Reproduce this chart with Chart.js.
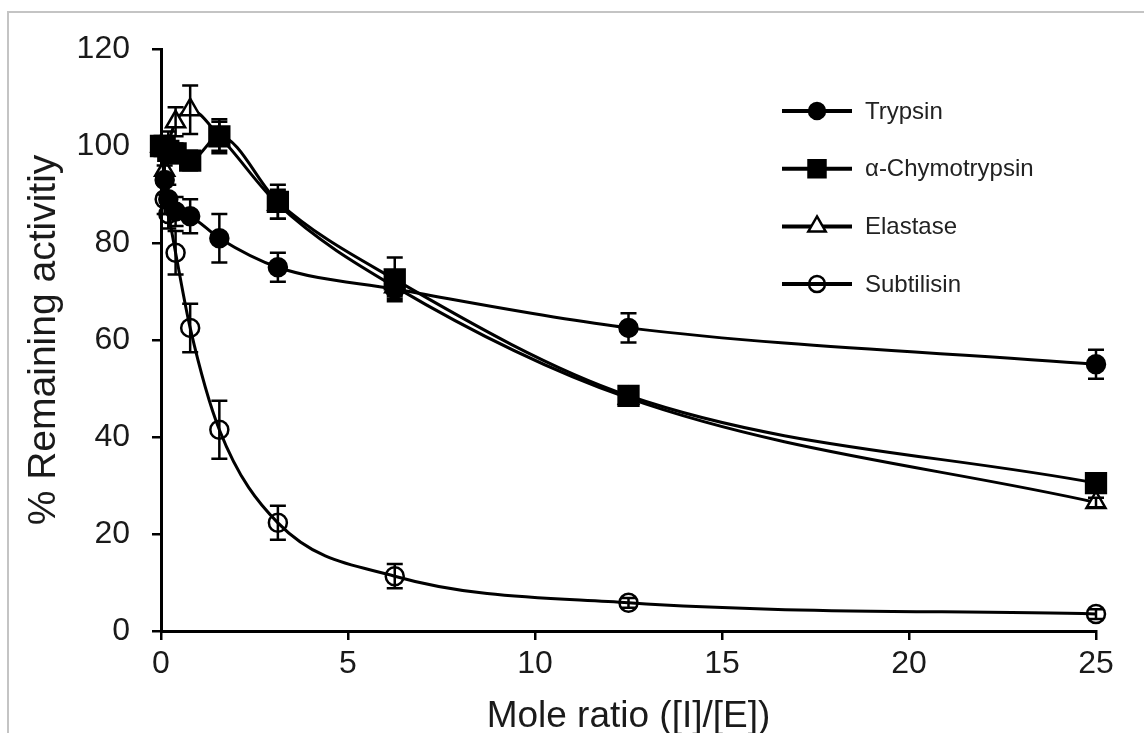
<!DOCTYPE html>
<html>
<head>
<meta charset="utf-8">
<script src="https://cdn.jsdelivr.net/npm/chart.js@4.4.1/dist/chart.umd.min.js"></script>
<style>
html,body{margin:0;padding:0;background:#fff;}
#wrap{position:relative;width:1144px;height:733px;overflow:hidden;}
#frame{position:absolute;left:7px;top:11px;width:1200px;height:800px;border-left:2px solid #c4c4c4;border-top:2px solid #c4c4c4;}
canvas{position:absolute;left:0;top:0;}
</style>
</head>
<body>
<div id="wrap"><div id="frame"></div><canvas id="c" width="1144" height="733"></canvas></div>
<script>
// ---- data ----
const ratios = [0, 0.098, 0.195, 0.39, 0.78, 1.56, 3.125, 6.25, 12.5, 25];
const trypsin = [100, 93, 89, 86.5, 85.5, 81, 75, 70.5, 62.5, 55];
const trypsinErr = [0, 3, 3, 3, 3.5, 5, 3, 2, 3, 3];
const chymotrypsin = [100, 100, 99, 98.5, 97, 102, 88.5, 72.5, 48.5, 30.5];
const chymotrypsinErr = [0, 2, 2, 2, 2, 3.5, 3.5, 4.5, 1, 1];
const elastase = [100, 95, 100, 105, 107.5, 102, 88, 71, 48, 26.5];
const elastaseErr = [0, 3, 3, 3, 5, 3, 3, 2, 1, 1];
const subtilisin = [100, 89, 86, 78, 62.5, 41.5, 22.3, 11.3, 5.8, 3.5];
const subtilisinErr = [0, 3, 3, 4.5, 5, 6, 3.5, 2.5, 1, 1];
const seriesNames = ['Trypsin', 'α-Chymotrypsin', 'Elastase', 'Subtilisin'];
const xTicks = [0, 5, 10, 15, 20, 25];
const yTicks = [0, 20, 40, 60, 80, 100, 120];

const FONT = '"Liberation Sans", Arial, sans-serif';

function pts(vals){ return ratios.map((x,i)=>({x:x, y:vals[i]})); }

const styles = [
  {pointStyle:'circle', radius:9, fill:'#000'},
  {pointStyle:'rect', radius:14, fill:'#000'},
  {pointStyle:'triangle', radius:11, fill:'#fff'},
  {pointStyle:'circle', radius:9, fill:'rgba(0,0,0,0)'}
];
const values = [trypsin, chymotrypsin, elastase, subtilisin];
const errors = [trypsinErr, chymotrypsinErr, elastaseErr, subtilisinErr];

const datasets = values.map((v,i)=>({
  label: seriesNames[i],
  data: pts(v),
  errors: errors[i],
  borderColor:'#000',
  borderWidth:3,
  backgroundColor: styles[i].fill,
  pointStyle: styles[i].pointStyle,
  pointRadius: styles[i].radius,
  pointBackgroundColor: styles[i].fill,
  pointBorderColor:'#000',
  pointBorderWidth:2.5,
  cubicInterpolationMode:'monotone',
  clip:false,
  fill:false
}));

const errorBars = {
  id:'errorBars',
  afterDatasetsDraw(chart){
    const ctx = chart.ctx, xs = chart.scales.x, ys = chart.scales.y;
    ctx.save();
    ctx.strokeStyle = '#000';
    ctx.lineWidth = 2.5;
    chart.data.datasets.forEach(ds=>{
      ds.data.forEach((p,i)=>{
        const e = ds.errors[i];
        if(!e) return;
        const px = xs.getPixelForValue(p.x);
        const y1 = ys.getPixelForValue(p.y + e);
        const y2 = ys.getPixelForValue(p.y - e);
        ctx.beginPath();
        ctx.moveTo(px, y1); ctx.lineTo(px, y2);
        ctx.moveTo(px-8, y1); ctx.lineTo(px+8, y1);
        ctx.moveTo(px-8, y2); ctx.lineTo(px+8, y2);
        ctx.stroke();
      });
    });
    ctx.restore();
  }
};

function drawMarker(ctx, style, r, x, y, fill){
  ctx.beginPath();
  if(style==='circle'){ ctx.arc(x,y,r,0,Math.PI*2); }
  else if(style==='rect'){ const s=r*Math.SQRT1_2; ctx.rect(x-s,y-s,2*s,2*s); }
  else if(style==='triangle'){
    ctx.moveTo(x, y - r);
    ctx.lineTo(x + r*Math.sin(Math.PI*2/3), y - r*Math.cos(Math.PI*2/3));
    ctx.lineTo(x + r*Math.sin(Math.PI*4/3), y - r*Math.cos(Math.PI*4/3));
    ctx.closePath();
  }
  ctx.fillStyle = fill; ctx.fill();
  ctx.lineWidth = 2.5; ctx.strokeStyle = '#000'; ctx.stroke();
}

const legendPlugin = {
  id:'customLegend',
  afterDraw(chart){
    const ctx = chart.ctx;
    ctx.save();
    const x0 = 782, x1 = 852, xm = 817, tx = 865;
    seriesNames.forEach((name,i)=>{
      const y = 111 + i*57.7;
      ctx.beginPath(); ctx.moveTo(x0,y); ctx.lineTo(x1,y);
      ctx.strokeStyle='#000'; ctx.lineWidth=4; ctx.stroke();
      const st = styles[i];
      const r = st.pointStyle==='rect' ? 12 : (st.pointStyle==='triangle' ? 10 : 8);
      drawMarker(ctx, st.pointStyle, r, xm, y, st.fill);
      ctx.fillStyle='#222';
      ctx.font = '24px ' + FONT;
      ctx.textBaseline='middle';
      ctx.textAlign='left';
      ctx.fillText(name, tx, y+1);
    });
    ctx.restore();
  }
};

new Chart(document.getElementById('c'), {
  type:'line',
  data:{datasets},
  options:{
    responsive:false,
    animation:false,
    layout:{padding:{left:0, top:49, right:48, bottom:0}},
    plugins:{legend:{display:false}, tooltip:{enabled:false}},
    scales:{
      x:{
        type:'linear', min:0, max:25,
        afterBuildTicks(s){ s.ticks = xTicks.map(v=>({value:v})); },
        afterFit(s){ s.height = 102; },
        border:{display:true, color:'#000', width:3},
        grid:{drawOnChartArea:false, drawTicks:true, tickLength:9, color:'#000', lineWidth:2.5},
        ticks:{color:'#1a1a1a', font:{family:FONT, size:32}, padding:5, maxRotation:0},
        title:{display:true, text:'Mole ratio ([I]/[E])', color:'#1a1a1a', font:{family:FONT, size:37}, padding:{top:0, bottom:-6}}
      },
      y:{
        type:'linear', min:0, max:120,
        afterBuildTicks(s){ s.ticks = yTicks.map(v=>({value:v})); },
        afterFit(s){ s.width = 161; },
        border:{display:true, color:'#000', width:3},
        grid:{drawOnChartArea:false, drawTicks:true, tickLength:9, color:'#000', lineWidth:2.5},
        ticks:{color:'#1a1a1a', font:{family:FONT, size:32}, padding:22},
        title:{display:true, text:'% Remaining activitiy', color:'#1a1a1a', font:{family:FONT, size:39}, padding:{top:21, bottom:0}}
      }
    }
  },
  plugins:[errorBars, legendPlugin]
});
</script>
</body>
</html>
